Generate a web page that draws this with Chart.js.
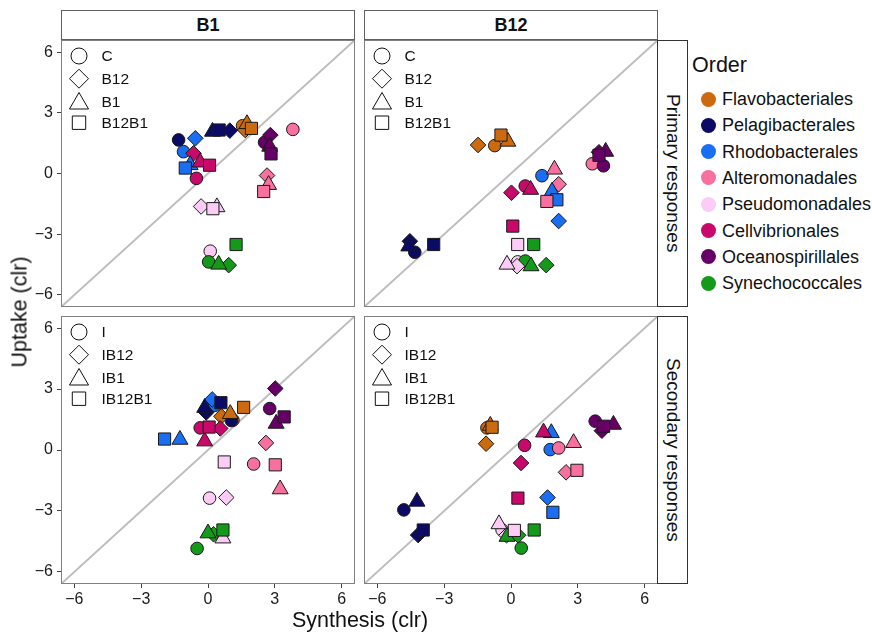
<!DOCTYPE html>
<html><head><meta charset="utf-8">
<script src="https://cdn.jsdelivr.net/npm/chart.js@4/dist/chart.umd.min.js"></script>
<style>
html,body{margin:0;padding:0;background:#fff;}
body{width:872px;height:633px;position:relative;overflow:hidden;font-family:"Liberation Sans",Arial,sans-serif;color:#111;}
canvas{position:absolute;}
.strip{position:absolute;border:1px solid #606060;box-sizing:border-box;background:#fff;display:flex;align-items:center;justify-content:center;}
.top{font-weight:bold;font-size:18px;}
.side{font-size:19px;writing-mode:vertical-rl;}
.lab{position:absolute;white-space:nowrap;}
</style>
</head><body>
<script>
// ---------- categories & labels ----------
const orders = ['Flavobacteriales','Pelagibacterales','Rhodobacterales','Alteromonadales','Pseudomonadales','Cellvibrionales','Oceanospirillales','Synechococcales'];
const orderColors = ['#CC6A10','#0B0B66','#1A6EF2','#F7709E','#FCCCF6','#C8086A','#660066','#15991A'];
const columnLabels = ['B1','B12'];
const rowLabels = ['Primary responses','Secondary responses'];
const primaryTreatments = ['C','B12','B1','B12B1'];
const secondaryTreatments = ['I','IB12','IB1','IB12B1'];
const tickValues = [-6,-3,0,3,6];
const axisLimit = 6.6;

// ---------- values: [synthesis, uptake] per order (same order as `orders`) ----------
// B1 column, primary responses
const b1Primary_C     = [[1.55,2.36],[-1.32,1.66],[-1.1,1.08],[3.81,2.18],[0.1,-3.84],[-0.52,-0.24],[2.54,1.54],[0.03,-4.37]];
const b1Primary_B12   = [[1.67,2.15],[0.98,2.12],[-0.57,1.74],[2.65,-0.1],[-0.31,-1.63],[-0.65,1.0],[2.8,1.9],[0.93,-4.53]];
const b1Primary_B1    = [[1.75,2.45],[0.2,2.07],[-0.8,0.42],[2.72,-0.56],[0.4,-1.66],[-0.35,0.55],[2.77,1.33],[0.48,-4.5]];
const b1Primary_B12B1 = [[1.95,2.23],[0.5,2.15],[-1.02,0.27],[2.5,-0.89],[0.22,-1.74],[0.07,0.41],[2.83,0.97],[1.26,-3.51]];
// B12 column, primary responses
const b12Primary_C     = [[-0.73,1.38],[-4.32,-3.89],[1.39,-0.11],[3.65,0.48],[0.3,-4.37],[0.64,-0.62],[4.15,0.38],[0.64,-4.33]];
const b12Primary_B12   = [[-1.48,1.41],[-4.54,-3.35],[2.14,-2.35],[2.14,-0.53],[0.27,-4.58],[0.02,-0.95],[3.95,1.05],[1.58,-4.53]];
const b12Primary_B1    = [[-0.14,1.58],[-4.59,-3.6],[1.84,-0.89],[1.95,0.2],[-0.18,-4.5],[0.88,-0.8],[4.25,1.08],[0.9,-4.58]];
const b12Primary_B12B1 = [[-0.45,1.9],[-3.47,-3.51],[2.06,-1.3],[1.61,-1.38],[0.3,-3.51],[0.08,-2.6],[3.95,0.9],[1.02,-3.51]];
// B1 column, secondary responses
const b1Secondary_I      = [[1.12,1.47],[1.05,1.45],[0.3,2.2],[2.05,-0.69],[0.07,-2.37],[-0.35,1.09],[2.77,2.04],[-0.49,-4.85]];
const b1Secondary_IB12   = [[0.6,1.66],[-0.08,1.85],[0.19,2.49],[2.6,0.35],[0.82,-2.34],[0.55,1.06],[3.02,3.03],[0.25,-4.15]];
const b1Secondary_IB1    = [[1.0,1.78],[-0.15,2.08],[-1.26,0.51],[3.24,-1.93],[0.67,-4.35],[-0.15,0.43],[3.06,1.3],[0.0,-4.1]];
const b1Secondary_IB12B1 = [[1.6,2.1],[0.58,2.33],[-1.95,0.54],[3.02,-0.73],[0.73,-0.59],[0.05,1.13],[3.42,1.63],[0.67,-3.94]];
// B12 column, secondary responses
const b12Secondary_I      = [[-1.08,1.09],[-4.81,-2.95],[1.76,0.02],[2.14,0.1],[-0.4,-3.94],[0.61,0.23],[3.78,1.42],[0.46,-4.83]];
const b12Secondary_IB12   = [[-1.12,0.31],[-4.17,-4.19],[1.64,-2.34],[2.47,-1.1],[-0.2,-4.2],[0.45,-0.64],[4.08,0.95],[0.32,-4.2]];
const b12Secondary_IB1    = [[-0.93,1.2],[-4.22,-2.54],[1.81,0.84],[2.81,0.35],[-0.54,-3.65],[1.46,0.87],[4.6,1.25],[-0.18,-4.27]];
const b12Secondary_IB12B1 = [[-0.85,1.12],[-3.94,-3.94],[1.88,-3.07],[2.96,-1.0],[0.15,-3.96],[0.31,-2.37],[4.16,1.17],[1.04,-3.94]];

// ---------- layout ----------
const shapeStyles = ['circle','rectRot','triangle','rect'];
const shapeRadius = [6.3, 7.8, 9.2, 8.6];
const panels = [
  {rect:[61,40,355,307], series:[b1Primary_C,b1Primary_B12,b1Primary_B1,b1Primary_B12B1], treat:primaryTreatments, showY:true, showX:false},
  {rect:[364,40,658,307], series:[b12Primary_C,b12Primary_B12,b12Primary_B1,b12Primary_B12B1], treat:primaryTreatments, showY:false, showX:false},
  {rect:[61,316,355,584], series:[b1Secondary_I,b1Secondary_IB12,b1Secondary_IB1,b1Secondary_IB12B1], treat:secondaryTreatments, showY:true, showX:true},
  {rect:[364,316,658,584], series:[b12Secondary_I,b12Secondary_IB12,b12Secondary_IB1,b12Secondary_IB12B1], treat:secondaryTreatments, showY:false, showX:true}
];

function el(tag, cls, style, text){
  const d=document.createElement(tag); if(cls) d.className=cls;
  Object.assign(d.style, style); if(text!==undefined) d.textContent=text;
  document.body.appendChild(d); return d;
}

function shapePath(ctx, style, x, y, r){
  ctx.beginPath();
  if(style==='circle'){ ctx.arc(x,y,r,0,Math.PI*2); }
  else if(style==='rectRot'){ ctx.moveTo(x-r,y); ctx.lineTo(x,y-r); ctx.lineTo(x+r,y); ctx.lineTo(x,y+r); }
  else if(style==='triangle'){ ctx.moveTo(x,y-r); ctx.lineTo(x+r*0.866,y+r*0.5); ctx.lineTo(x-r*0.866,y+r*0.5); }
  else { ctx.rect(x-r,y-r,2*r,2*r); }
  ctx.closePath();
}

const fmt = v => v<0 ? '\u2212'+Math.abs(v) : String(v);
const tickFont = {family:'"Liberation Sans", Arial, sans-serif', size:16};

panels.forEach(p=>{
  const [L,T,R,B]=p.rect;
  const yW = p.showY?48:0, xH = p.showX?32:0;
  const cv=document.createElement('canvas');
  cv.width=R-L+yW; cv.height=B-T+xH;
  cv.style.left=(L-yW)+'px'; cv.style.top=T+'px';
  document.body.appendChild(cv);

  const datasets=[{type:'line', data:[{x:-axisLimit,y:-axisLimit},{x:axisLimit,y:axisLimit}], borderColor:'#bdbdbd', borderWidth:2, pointRadius:0, order:10}];
  p.series.forEach((pts,t)=>{
    datasets.push({type:'scatter', data:pts.map(v=>({x:v[0],y:v[1]})), backgroundColor:orderColors, borderColor:'#1a1a1a', borderWidth:1,
      pointStyle:shapeStyles[t], pointRadius:shapeRadius[t], pointHoverRadius:shapeRadius[t], order:4-t});
  });

  const treatLegend={id:'treatLegend', afterDatasetsDraw(chart){
    const ctx=chart.ctx, a=chart.chartArea;
    const rows=[16,38.7,61.5,82.7], lr=[8,9.5,11,6.7], dy=[0,0,2,0];
    ctx.save();
    p.treat.forEach((lbl,i)=>{
      shapePath(ctx, shapeStyles[i], a.left+18, a.top+rows[i]+dy[i], lr[i]);
      ctx.fillStyle='#fff'; ctx.fill(); ctx.lineWidth=1; ctx.strokeStyle='#111'; ctx.stroke();
      ctx.fillStyle='#111'; ctx.font='15.5px "Liberation Sans", Arial, sans-serif'; ctx.textBaseline='middle'; ctx.textAlign='left';
      ctx.fillText(lbl, a.left+40.5, a.top+rows[i]+1);
    });
    ctx.strokeStyle='#808080'; ctx.lineWidth=1;
    ctx.strokeRect(a.left+0.5,a.top+0.5,a.right-a.left-1,a.bottom-a.top-1);
    ctx.restore();
  }};

  const setTicks = s => { s.ticks = tickValues.map(v=>({value:v})); };
  new Chart(cv,{
    data:{datasets},
    options:{
      responsive:false, animation:false, devicePixelRatio:1, events:[],
      layout:{padding:0, autoPadding:false},
      plugins:{legend:{display:false}, tooltip:{enabled:false}},
      scales:{
        x:{type:'linear', min:-axisLimit, max:axisLimit, display:p.showX,
          afterBuildTicks:setTicks, afterFit:s=>{s.height=xH; s.paddingLeft=0; s.paddingRight=0;},
          grid:{drawOnChartArea:false, drawTicks:true, tickLength:4, tickColor:'#444', tickWidth:1},
          border:{display:false},
          ticks:{padding:2, color:'#1a1a1a', font:tickFont, callback:fmt, maxRotation:0, autoSkip:false}},
        y:{type:'linear', min:-axisLimit, max:axisLimit, display:p.showY,
          afterBuildTicks:setTicks, afterFit:s=>{s.width=yW; s.paddingTop=0; s.paddingBottom=0;},
          grid:{drawOnChartArea:false, drawTicks:true, tickLength:4, tickColor:'#444', tickWidth:1},
          border:{display:false},
          ticks:{padding:4, color:'#1a1a1a', font:tickFont, callback:fmt, autoSkip:false}}
      }
    },
    plugins:[treatLegend]
  });
});

// strips
el('div','strip top',{left:'61px',top:'10px',width:'294px',height:'30px'},columnLabels[0]);
el('div','strip top',{left:'364px',top:'10px',width:'294px',height:'30px'},columnLabels[1]);
el('div','strip side',{left:'657px',top:'40px',width:'31px',height:'267px',borderColor:'#333'},rowLabels[0]);
el('div','strip side',{left:'657px',top:'316px',width:'31px',height:'268px',borderColor:'#333'},rowLabels[1]);

// axis titles
el('div','lab',{left:'20px',top:'312px',fontSize:'21.5px',transform:'translate(-50%,-50%) rotate(-90deg)'},'Uptake (clr)');
el('div','lab',{left:'360px',top:'620px',fontSize:'21.5px',transform:'translate(-50%,-50%)'},'Synthesis (clr)');

// colour legend
el('div','lab',{left:'692px',top:'53px',fontSize:'21.5px'},'Order');
orders.forEach((o,i)=>{
  const y=99+26.3*i;
  el('div','lab',{left:'700.5px',top:(y-7.5)+'px',width:'15px',height:'15px',borderRadius:'50%',background:orderColors[i]});
  el('div','lab',{left:'722px',top:(y-11)+'px',fontSize:'18px',lineHeight:'22px'},o);
});
</script>
</body></html>
